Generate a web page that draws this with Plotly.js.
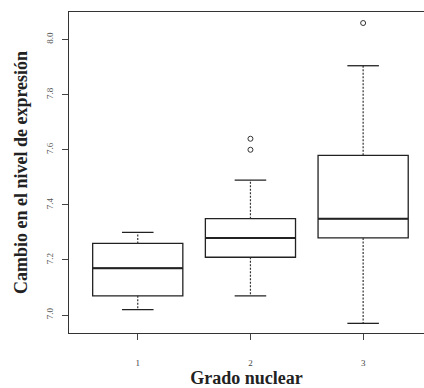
<!DOCTYPE html>
<html><head><meta charset="utf-8">
<script src="https://cdn.plot.ly/plotly-3.0.1.min.js"></script>
<style>html,body{margin:0;padding:0;background:#fff}#c{width:424px;height:388px}</style>
</head><body><div id="c"></div>
<script>
const categories = [1, 2, 3];
const tickLabels = ['1', '2', '3'];
const lowerWhisker = [7.02, 7.07, 6.97];
const q1 = [7.07, 7.21, 7.28];
const median = [7.17, 7.28, 7.35];
const q3 = [7.26, 7.35, 7.58];
const upperWhisker = [7.30, 7.49, 7.905];
const outlierX = [2, 2, 3];
const outlierY = [7.60, 7.64, 8.06];

const boxW = 0.8, capHalf = 0.14, medHalf = 0.4;
const traces = [];
traces.push({
  type: 'box', x: categories, q1: q1, median: median, q3: q3,
  lowerfence: q1, upperfence: q3, width: boxW, whiskerwidth: 0,
  fillcolor: '#fff', line: {color: '#222', width: 1.3}, boxpoints: false,
  hoverinfo: 'skip', showlegend: false
});
const wx = [], wy = [];
categories.forEach((c, i) => {
  wx.push(c, c, null, c, c, null);
  wy.push(q3[i], upperWhisker[i], null, q1[i], lowerWhisker[i], null);
});
traces.push({type: 'scatter', mode: 'lines', x: wx, y: wy,
  line: {color: '#333', width: 1.2, dash: '2px,1.5px'}, showlegend: false, hoverinfo: 'skip'});
const cx = [], cy = [];
categories.forEach((c, i) => {
  cx.push(c - capHalf, c + capHalf, null, c - capHalf, c + capHalf, null);
  cy.push(upperWhisker[i], upperWhisker[i], null, lowerWhisker[i], lowerWhisker[i], null);
});
traces.push({type: 'scatter', mode: 'lines', x: cx, y: cy,
  line: {color: '#222', width: 1.3}, showlegend: false, hoverinfo: 'skip'});
const mx = [], my = [];
categories.forEach((c, i) => {
  mx.push(c - medHalf, c + medHalf, null);
  my.push(median[i], median[i], null);
});
traces.push({type: 'scatter', mode: 'lines', x: mx, y: my,
  line: {color: '#222', width: 2}, showlegend: false, hoverinfo: 'skip'});
traces.push({type: 'scatter', mode: 'markers', x: outlierX, y: outlierY,
  marker: {symbol: 'circle-open', size: 5, color: '#333', line: {width: 1}},
  showlegend: false, hoverinfo: 'skip'});

const layout = {
  width: 424, height: 388,
  margin: {l: 69, r: 0, t: 12, b: 55},
  paper_bgcolor: '#fff', plot_bgcolor: '#fff',
  font: {family: 'Liberation Serif, serif', color: '#222'},
  xaxis: {
    range: [0.39, 3.54], tickvals: categories, ticktext: tickLabels,
    showgrid: false, zeroline: false, showline: true, mirror: true,
    linecolor: '#333', linewidth: 1.3, ticks: 'outside', ticklen: 6, tickcolor: '#444',
    ticklabelstandoff: 15,
    tickfont: {size: 9, color: '#444'},
    title: {text: '<b>Grado nuclear</b>', font: {size: 18, color: '#222'}, standoff: 4}
  },
  yaxis: {
    range: [6.935, 8.10], tickvals: [7.0, 7.2, 7.4, 7.6, 7.8, 8.0],
    ticktext: ['7.0', '7.2', '7.4', '7.6', '7.8', '8.0'], tickangle: -90,
    showgrid: false, zeroline: false, showline: true,
    linecolor: '#333', linewidth: 1.3, ticks: 'outside', ticklen: 6, tickcolor: '#444',
    ticklabelstandoff: 5,
    tickfont: {size: 9, color: '#555'},
    title: {text: '<b>Cambio en el nivel de expresión</b>', font: {size: 18, color: '#222'}, standoff: 12}
  }
};
Plotly.newPlot('c', traces, layout, {staticPlot: true, displayModeBar: false});
</script></body></html>
